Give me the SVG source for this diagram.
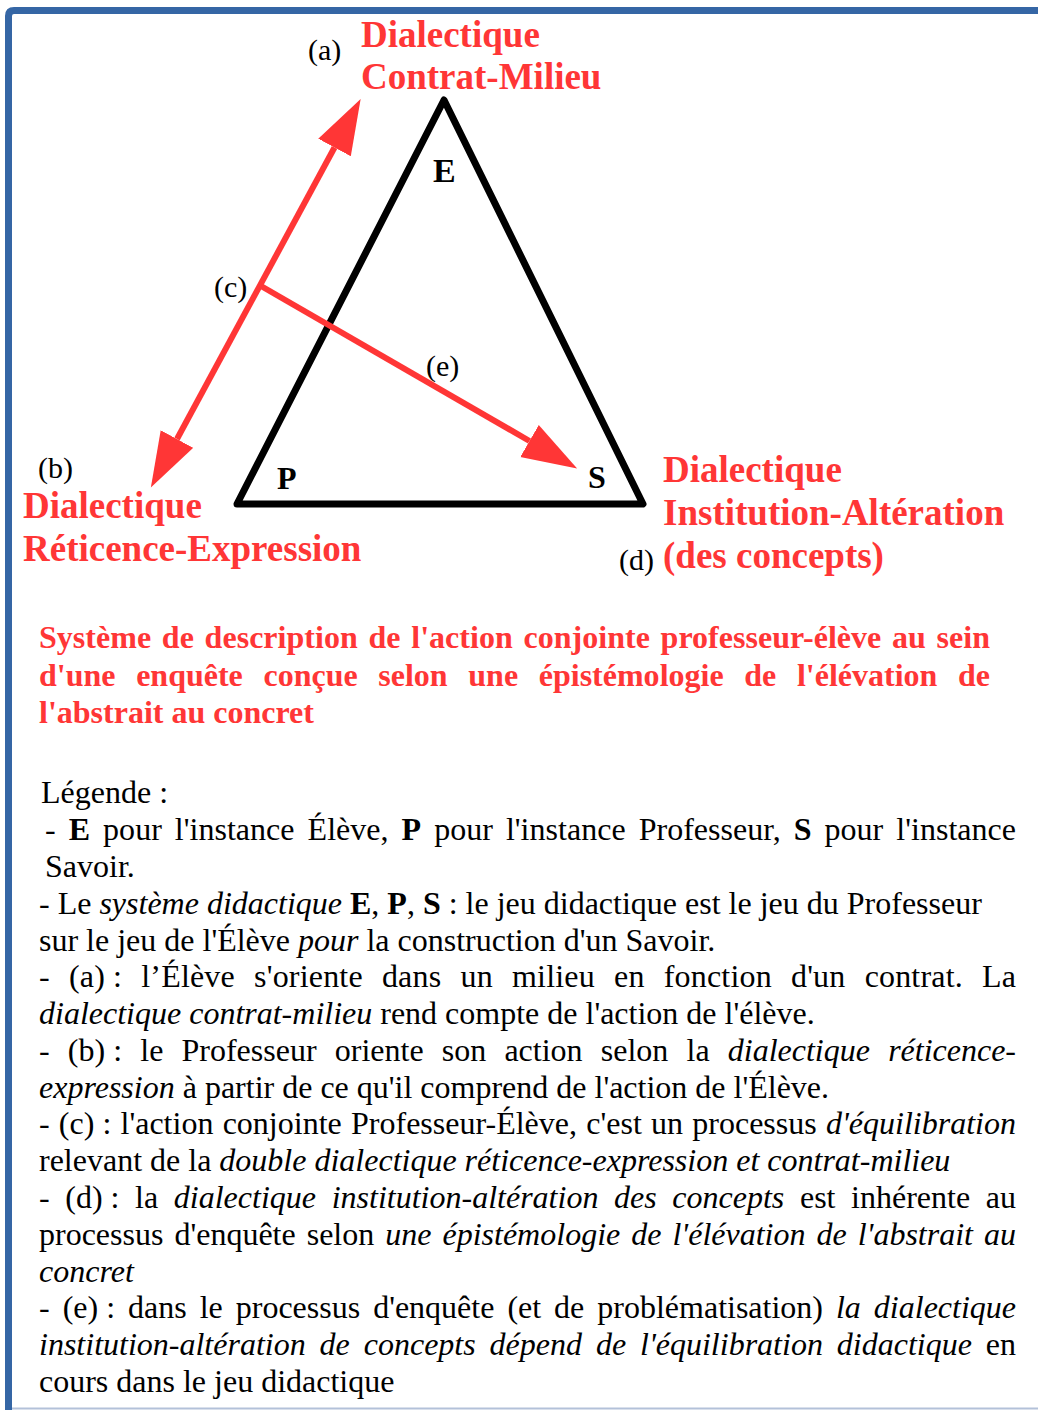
<svg xmlns="http://www.w3.org/2000/svg" width="1038" height="1410" viewBox="0 0 1038 1410">
<style>
.lbl{font-family:"Liberation Serif",serif;font-size:30px;fill:#000}
.red{font-family:"Liberation Serif",serif;font-size:37px;font-weight:bold;fill:#ff3636}
.ttl{font-family:"Liberation Serif",serif;font-size:32px;font-weight:bold;fill:#ff3636}
.vtx{font-family:"Liberation Serif",serif;font-weight:bold;fill:#000}
.leg{font-family:"Liberation Serif",serif;font-size:32px;fill:#000}
.i{font-style:italic}
.b{font-weight:bold}
.conn{stroke:#ff3636;stroke-width:6;fill:none}
</style>
<defs>
<marker id="ah" markerUnits="userSpaceOnUse" markerWidth="60" markerHeight="40" refX="0" refY="18.5" orient="auto-start-reverse" viewBox="0 0 60 40">
<path d="M0,0 L55,18.5 L0,37 z" fill="#ff3636"/>
</marker>
</defs>
<rect width="1038" height="1410" fill="#fff"/>
<g id="frame">
<path d="M8.5,1410 V16 Q8.5,10.5 14,10.5 H1038" fill="none" stroke="#3566a5" stroke-width="7"/>
<line x1="12" y1="1408.5" x2="1038" y2="1408.5" stroke="#b3c1d9" stroke-width="2"/>
</g>
<g id="triangle">
<path d="M444,100 L643,504 L237,504 Z" fill="none" stroke="#000" stroke-width="7" stroke-linejoin="round"/>
<text class="vtx" x="433" y="182" font-size="34">E</text>
<text class="vtx" x="277" y="489" font-size="32">P</text>
<text class="vtx" x="588" y="488" font-size="32">S</text>
</g>
<g id="connectors">
<line class="conn" x1="177" y1="439" x2="334.5" y2="147.5" marker-start="url(#ah)" marker-end="url(#ah)"/>
<line class="conn" x1="261" y1="286" x2="529.5" y2="441" marker-end="url(#ah)"/>
</g>
<g id="node-a">
<text class="lbl" x="308" y="60">(a)</text>
<text class="red" x="361" y="47">Dialectique</text>
<text class="red" x="361" y="89">Contrat-Milieu</text>
</g>
<g id="node-b">
<text class="lbl" x="38" y="478">(b)</text>
<text class="red" x="23" y="518">Dialectique</text>
<text class="red" x="23" y="561">Réticence-Expression</text>
</g>
<g id="node-c">
<text class="lbl" x="214" y="297">(c)</text>
</g>
<g id="node-e">
<text class="lbl" x="426" y="376">(e)</text>
</g>
<g id="node-d">
<text class="red" x="663" y="482">Dialectique</text>
<text class="red" x="663" y="525">Institution-Altération</text>
<text class="red" x="663" y="568">(des concepts)</text>
<text class="lbl" x="619" y="570">(d)</text>
</g>
<g id="title">
<text class="ttl" x="39" y="648" word-spacing="2.7" textLength="951" lengthAdjust="spacing">Système de description de l'action conjointe professeur-élève au sein</text>
<text class="ttl" x="39" y="686" word-spacing="12.6" textLength="951" lengthAdjust="spacing">d'une enquête conçue selon une épistémologie de l'élévation de</text>
<text class="ttl" x="39" y="723">l'abstrait au concret</text>
</g>
<g id="legend">
<text class="leg" x="41" y="803">Légende :</text>
<text class="leg" x="45" y="840" word-spacing="5" textLength="971" lengthAdjust="spacing">- <tspan class="b">E</tspan> pour l'instance Élève, <tspan class="b">P</tspan> pour l'instance Professeur, <tspan class="b">S</tspan> pour l'instance</text>
<text class="leg" x="45" y="877">Savoir.</text>
<text class="leg" x="39" y="914">- Le <tspan class="i">système didactique</tspan> <tspan class="b">E</tspan>, <tspan class="b">P</tspan>, <tspan class="b">S</tspan> : le jeu didactique est le jeu du Professeur</text>
<text class="leg" x="39" y="951">sur le jeu de l'Élève <tspan class="i">pour</tspan> la construction d'un Savoir.</text>
<text class="leg" x="39" y="987" word-spacing="11" textLength="977" lengthAdjust="spacing">- (a)<tspan dx="8">:</tspan> l’Élève s'oriente dans un milieu en fonction d'un contrat. La</text>
<text class="leg" x="39" y="1024"><tspan class="i">dialectique contrat-milieu</tspan> rend compte de l'action de l'élève.</text>
<text class="leg" x="39" y="1061" word-spacing="10.2" textLength="977" lengthAdjust="spacing">- (b)<tspan dx="8">:</tspan> le Professeur oriente son action selon la <tspan class="i">dialectique réticence-</tspan></text>
<text class="leg" x="39" y="1098"><tspan class="i">expression</tspan> à partir de ce qu'il comprend de l'action de l'Élève.</text>
<text class="leg" x="39" y="1134" word-spacing="1.2" textLength="977" lengthAdjust="spacing">- (c)<tspan dx="8">:</tspan> l'action conjointe Professeur-Élève, c'est un processus <tspan class="i">d'équilibration</tspan></text>
<text class="leg" x="39" y="1171">relevant de la <tspan class="i">double dialectique réticence-expression et contrat-milieu</tspan></text>
<text class="leg" x="39" y="1208" word-spacing="7.6" textLength="977" lengthAdjust="spacing">- (d)<tspan dx="8">:</tspan> la <tspan class="i">dialectique institution-altération des concepts</tspan> est inhérente au</text>
<text class="leg" x="39" y="1245" word-spacing="3" textLength="977" lengthAdjust="spacing">processus d'enquête selon <tspan class="i">une épistémologie de l'élévation de l'abstrait au</tspan></text>
<text class="leg" x="39" y="1282"><tspan class="i">concret</tspan></text>
<text class="leg" x="39" y="1318" word-spacing="5" textLength="977" lengthAdjust="spacing">- (e)<tspan dx="8">:</tspan> dans le processus d'enquête (et de problématisation) <tspan class="i">la dialectique</tspan></text>
<text class="leg" x="39" y="1355" word-spacing="5.9" textLength="977" lengthAdjust="spacing"><tspan class="i">institution-altération de concepts dépend de l'équilibration didactique</tspan> en</text>
<text class="leg" x="39" y="1392">cours dans le jeu didactique</text>
</g>
</svg>
